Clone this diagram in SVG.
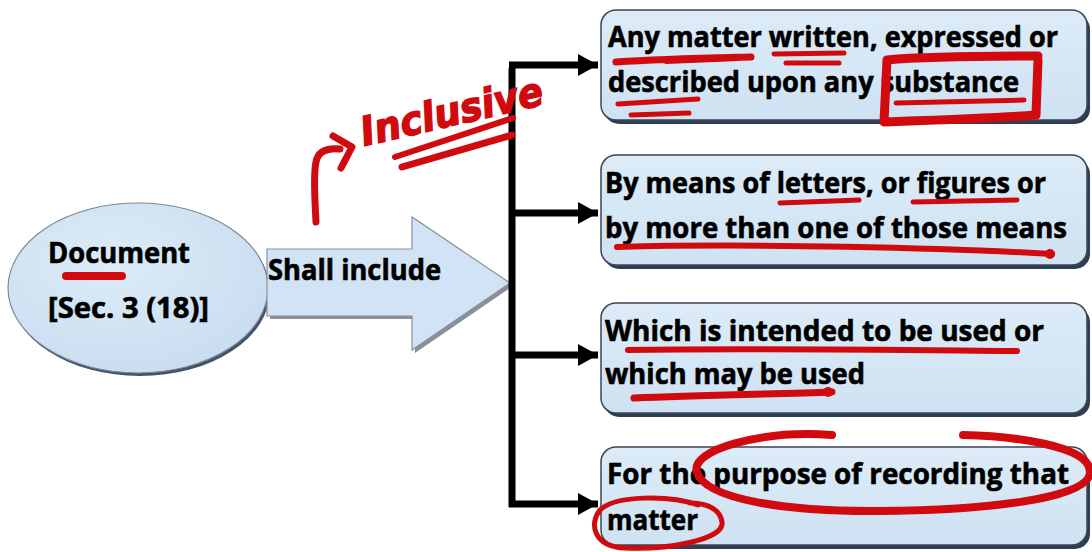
<svg xmlns="http://www.w3.org/2000/svg" width="1092" height="552" viewBox="0 0 1092 552">
<defs>
<linearGradient id="gBox" x1="0" y1="0" x2="0" y2="1">
<stop offset="0" stop-color="#dcebf7"/>
<stop offset="1" stop-color="#cfe2f3"/>
</linearGradient>
<radialGradient id="gEll" cx="0.4" cy="0.35" r="0.7">
<stop offset="0" stop-color="#dcebf7"/>
<stop offset="1" stop-color="#c9ddf0"/>
</radialGradient>
<marker id="ah" markerUnits="userSpaceOnUse" markerWidth="22" markerHeight="24" refX="20" refY="12" orient="auto">
<path d="M0,1 L20,12 L0,23 Z" fill="#000"/>
</marker>
<style>
.t{font-family:"Open Sans","Noto Sans","DejaVu Sans",sans-serif;font-weight:bold;font-size:28px;fill:#000;stroke:#000;stroke-width:0.6}
.box{fill:url(#gBox);stroke:#3c4654;stroke-width:1.5}
.shadow{fill:#2d3d52}
.conn{stroke:#000;stroke-width:7;fill:none}
.red{stroke:#d00a0e;fill:none;stroke-linecap:round;stroke-linejoin:round}
</style>
</defs>
<rect width="1092" height="552" fill="#fff"/>

<g id="node-document">
<ellipse cx="140" cy="291" rx="130" ry="85" fill="#44536a"/>
<ellipse cx="138" cy="288" rx="130" ry="85" fill="url(#gEll)" stroke="#7a8896" stroke-width="1.2"/>
<text class="t" x="48" y="263" textLength="142" lengthAdjust="spacingAndGlyphs">Document</text>
<text class="t" x="48" y="318" textLength="161" lengthAdjust="spacingAndGlyphs">[Sec. 3 (18)]</text>
</g>

<g id="node-shall-include">
<path d="M270,252 H415 V220 L513,286 L415,353 V319 H270 Z" fill="#8c8f94"/>
<path d="M267,249 H412 V217 L510,283 L412,350 V316 H267 Z" fill="#d1e3f4" stroke="#8593a2" stroke-width="1.2"/>
<text class="t" x="268" y="280" textLength="173" lengthAdjust="spacingAndGlyphs">Shall include</text>
</g>

<g id="connectors">
<path class="conn" d="M512,68 V507"/>
<path class="conn" d="M509,65 H598" marker-end="url(#ah)"/>
<path class="conn" d="M509,213 H598" marker-end="url(#ah)"/>
<path class="conn" d="M509,355 H598" marker-end="url(#ah)"/>
<path class="conn" d="M509,504 H598" marker-end="url(#ah)"/>
</g>

<g id="node-box1">
<rect class="shadow" x="604" y="14" width="486" height="110" rx="15"/>
<rect class="box" x="601" y="10" width="486" height="110" rx="15"/>
<text class="t" x="608" y="47" textLength="450" lengthAdjust="spacingAndGlyphs">Any matter written, expressed or</text>
<text class="t" x="608" y="92" textLength="411" lengthAdjust="spacingAndGlyphs">described upon any substance</text>
</g>

<g id="node-box2">
<rect class="shadow" x="604" y="159" width="486" height="110" rx="15"/>
<rect class="box" x="601" y="155" width="486" height="110" rx="15"/>
<text class="t" x="605" y="193" textLength="441" lengthAdjust="spacingAndGlyphs">By means of letters, or figures or</text>
<text class="t" x="605" y="238" textLength="462" lengthAdjust="spacingAndGlyphs">by more than one of those means</text>
</g>

<g id="node-box3">
<rect class="shadow" x="604" y="307" width="486" height="110" rx="15"/>
<rect class="box" x="601" y="303" width="486" height="110" rx="15"/>
<text class="t" x="605" y="341" textLength="439" lengthAdjust="spacingAndGlyphs">Which is intended to be used or</text>
<text class="t" x="605" y="384" textLength="260" lengthAdjust="spacingAndGlyphs">which may be used</text>
</g>

<g id="node-box4">
<rect class="shadow" x="604" y="451" width="486" height="98" rx="15"/>
<rect class="box" x="601" y="447" width="486" height="98" rx="15"/>
<text class="t" x="607" y="484" textLength="462" lengthAdjust="spacingAndGlyphs">For the purpose of recording that</text>
<text class="t" x="607" y="530" textLength="91" lengthAdjust="spacingAndGlyphs">matter</text>
</g>

<g id="annotations">
<path class="red" stroke-width="8" d="M66,276 L122,276"/>
<path class="red" stroke-width="7" d="M316,222 C315,200 313,176 316,162 C318,151 328,148 340,149"/>
<path class="red" stroke-width="7" d="M333,136 L352,147 L341,168"/>
<text x="0" y="0" transform="translate(364,146) rotate(-13)" font-family="DejaVu Sans, sans-serif" font-style="italic" font-weight="bold" font-size="40" fill="#d00a0e" stroke="#d00a0e" stroke-width="1.5" textLength="186" lengthAdjust="spacingAndGlyphs">Inclusive</text>
<path class="red" stroke-width="6" d="M395,157 L513,118"/>
<path class="red" stroke-width="7" d="M402,167 L512,135"/>

<path class="red" stroke-width="7" d="M616,62 C660,59 710,58 751,57"/>
<path class="red" stroke-width="4" d="M666,62 L738,59"/>
<path class="red" stroke-width="5" d="M774,54 L844,53"/>
<path class="red" stroke-width="5" d="M786,63 L839,63"/>
<path class="red" stroke-width="5" d="M618,104 L698,99"/>
<path class="red" stroke-width="5" d="M631,115 L689,113"/>
<path class="red" stroke-width="9" d="M1038,56 C980,56 920,57 887,60 L884,122 C940,120 1000,118 1036,115 L1038,60"/>
<path class="red" stroke-width="5" d="M896,103 L1024,100"/>

<path class="red" stroke-width="5" d="M780,203 L859,200"/>
<path class="red" stroke-width="5" d="M913,202 L1017,200"/>
<path class="red" stroke-width="6" d="M617,247 C750,243 950,248 1052,254"/>
<circle cx="1050" cy="254" r="5" fill="#d00a0e"/>

<path class="red" stroke-width="6" d="M628,350 C750,348 900,350 1017,351"/>
<path class="red" stroke-width="7" d="M634,398 C700,395 780,394 832,392"/>
<circle cx="828" cy="392" r="5" fill="#d00a0e"/>

<path class="red" stroke-width="8" d="M832,435 C760,430 690,450 697,472 C705,500 790,512 880,511 C980,510 1090,500 1090,472 C1090,445 1010,436 963,435"/>
<path class="red" stroke-width="5" d="M698,505 C670,495 615,495 600,510 C588,525 595,547 625,548 C665,550 725,540 722,522 C720,508 705,503 690,503"/>
</g>
</svg>
